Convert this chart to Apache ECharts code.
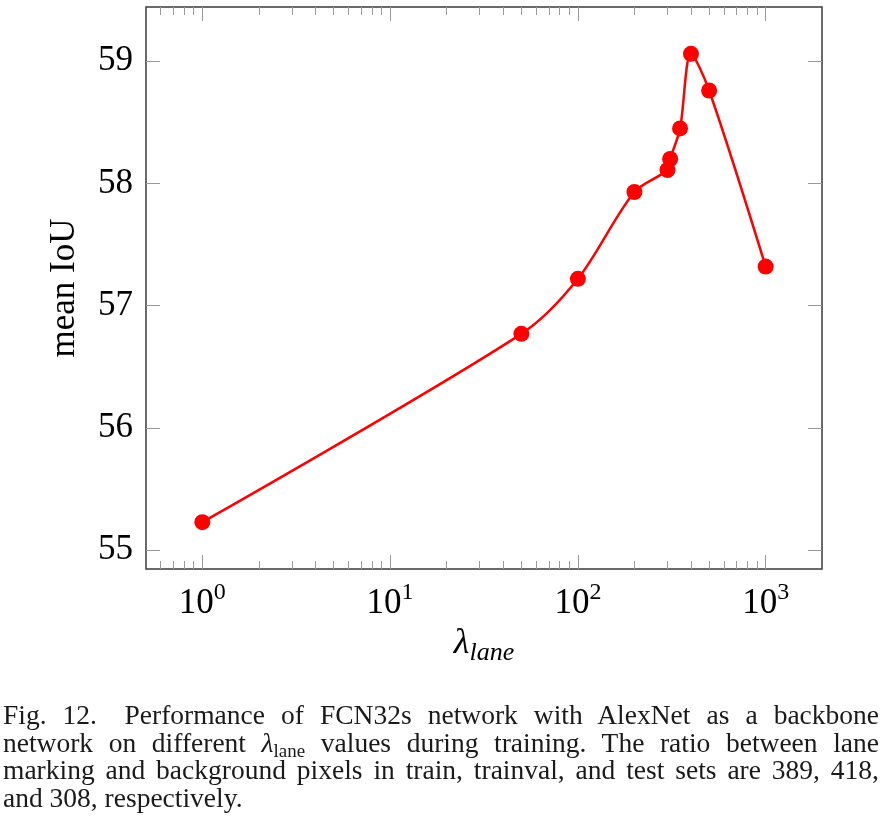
<!DOCTYPE html>
<html><head><meta charset="utf-8">
<script src="https://cdn.jsdelivr.net/npm/echarts@6/dist/echarts.min.js"></script>
<style>
html,body{margin:0;padding:0;background:#fff;}
#chart{position:absolute;left:0;top:0;width:880px;height:824px;}
#cap{position:absolute;left:3px;top:701px;width:876px;font-family:"Liberation Serif","Times New Roman",serif;font-size:27.5px;line-height:27.6px;color:#1a1a1a;}
#cap .j{text-align:justify;text-align-last:justify;}
#cap .l{text-align:left;}
#cap sub{font-size:19px;line-height:0;vertical-align:-5px;}
</style></head>
<body>
<div id="chart"></div>
<div id="cap">
<div class="j">Fig. 12.&emsp;Performance of FCN32s network with AlexNet as a backbone</div>
<div class="j">network on different <i>λ</i><sub>lane</sub> values during training. The ratio between lane</div>
<div class="j">marking and background pixels in train, trainval, and test sets are 389, 418,</div>
<div class="l">and 308, respectively.</div>
</div>
<script>
// ---- data ----
const lambdaValues = [1, 50, 100, 200, 300, 310, 350, 400, 500, 1000];
const meanIoU = [55.23, 56.77, 57.22, 57.93, 58.11, 58.20, 58.45, 59.06, 58.76, 57.32];
const xMajorTicks = [1, 10, 100, 1000];
const xMinorTicks = [0.6, 0.7, 0.8, 0.9, 2, 3, 4, 5, 6, 7, 8, 9, 20, 30, 40, 50, 60, 70, 80, 90, 200, 300, 400, 500, 600, 700, 800, 900];
const yTicks = [55, 56, 57, 58, 59];
const yAxisTitle = 'mean IoU';

const xMin = Math.pow(10, -0.3), xMax = Math.pow(10, 3.3);
const yMin = 54.847, yMax = 59.443;

const FONT = '"Liberation Serif","Times New Roman",serif';
const tickColor = '#9a9a9a';

function xAxisDef(pos, ticks, len, showLabel, withName) {
  const a = {
    type: 'log', logBase: 10, min: xMin, max: xMax, position: pos,
    axisLine: { show: false },
    splitLine: { show: false },
    minorTick: { show: false },
    axisTick: { show: true, inside: true, length: len, customValues: ticks, lineStyle: { color: tickColor, width: 1 } },
    axisLabel: showLabel ? {
      customValues: xMajorTicks, margin: 12,
      formatter: v => '{b|10}{s|' + Math.round(Math.log10(v)) + '}',
      rich: {
        b: { fontFamily: FONT, fontSize: 35, color: '#000', lineHeight: 40, verticalAlign: 'bottom' },
        s: { fontFamily: FONT, fontSize: 24, color: '#000', lineHeight: 24, verticalAlign: 'top' }
      }
    } : { show: false }
  };
  if (withName) {
    a.name = '{l|λ}{s|lane}';
    a.nameLocation = 'middle';
    a.nameGap = 52;
    a.nameTextStyle = {
      rich: {
        l: { fontFamily: FONT, fontStyle: 'italic', fontSize: 36, color: '#000', lineHeight: 40, verticalAlign: 'top' },
        s: { fontFamily: FONT, fontStyle: 'italic', fontSize: 26, color: '#000', lineHeight: 40, verticalAlign: 'bottom', padding: [8, 0, 0, 0] }
      }
    };
  }
  return a;
}

function yAxisDef(pos, showLabel) {
  const a = {
    type: 'value', min: yMin, max: yMax, position: pos,
    axisLine: { show: false },
    splitLine: { show: false },
    axisTick: { show: true, inside: true, length: 14, customValues: yTicks, lineStyle: { color: tickColor, width: 1 } },
    axisLabel: showLabel ? { customValues: yTicks, margin: 13, fontFamily: FONT, fontSize: 35, color: '#000' } : { show: false }
  };
  if (showLabel) {
    a.name = yAxisTitle;
    a.nameLocation = 'middle';
    a.nameRotate = 90;
    a.nameGap = 64;
    a.nameTextStyle = { fontFamily: FONT, fontSize: 35, color: '#000' };
  }
  return a;
}

const chart = echarts.init(document.getElementById('chart'), null, { renderer: 'canvas' });
chart.setOption({
  animation: false,
  backgroundColor: '#fff',
  grid: { left: 146, right: 58, top: 7, bottom: 255, show: true, borderColor: '#3a3a3a', borderWidth: 1.5, backgroundColor: 'transparent' },
  xAxis: [
    xAxisDef('bottom', xMajorTicks, 14, true, true),
    xAxisDef('bottom', xMinorTicks, 8, false, false),
    xAxisDef('top', xMajorTicks, 14, false, false),
    xAxisDef('top', xMinorTicks, 8, false, false)
  ],
  yAxis: [
    yAxisDef('left', true),
    yAxisDef('right', false)
  ],
  series: [{
    type: 'line',
    xAxisIndex: 0, yAxisIndex: 0,
    data: lambdaValues.map((x, i) => [x, meanIoU[i]]),
    smooth: 0.3,
    symbol: 'circle', symbolSize: 16,
    itemStyle: { color: '#ff0000' },
    lineStyle: { color: '#ff0000', width: 2.5 },
    z: 5
  }]
});
</script>
</body></html>
